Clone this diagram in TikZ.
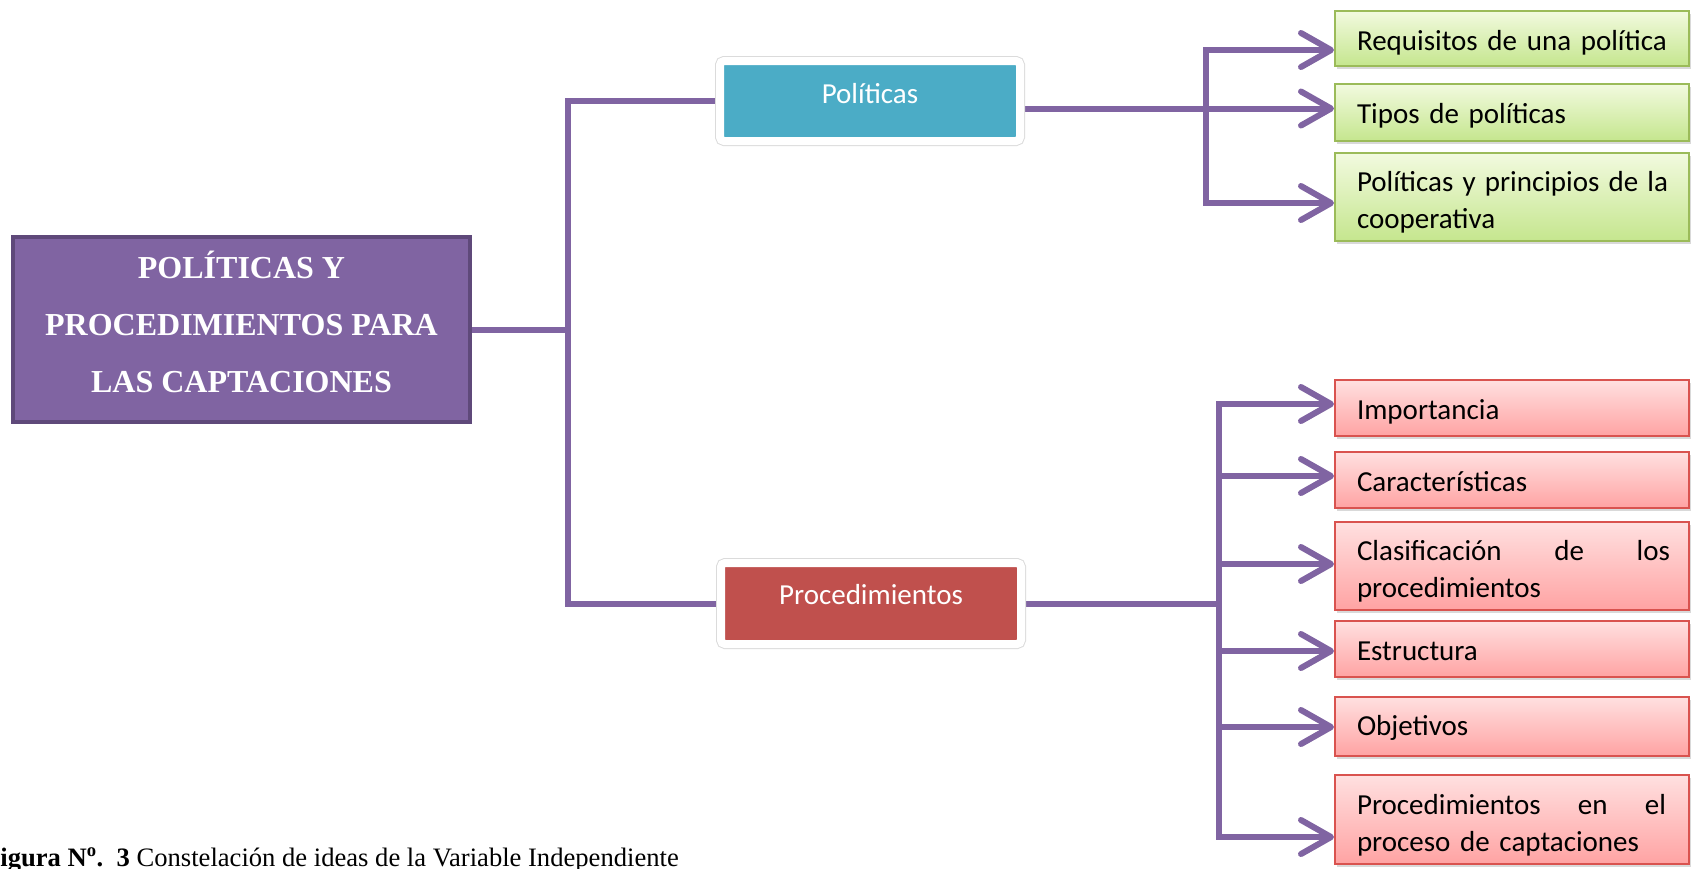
\documentclass[tikz,border=0pt]{standalone}
\usepackage{fontspec}
\setmainfont{Liberation Serif}
\newfontfamily\carl{Carlito}
\usetikzlibrary{arrows.meta,shadows,calc}
\definecolor{purp}{HTML}{8064A2}
\definecolor{purpdark}{HTML}{5F497A}
\definecolor{polteal}{HTML}{4BACC6}
\definecolor{procred}{HTML}{C0504D}
\definecolor{grnborder}{HTML}{9BBB59}
\definecolor{grntop}{HTML}{F2FADF}
\definecolor{grnbot}{HTML}{C5E68E}
\definecolor{redborder}{HTML}{D9534F}
\definecolor{redtop}{HTML}{FFE0E0}
\definecolor{redbot}{HTML}{FFA3A3}
\pgfdeclarelayer{bg}
\pgfsetlayers{bg,main}
\begin{document}
\begin{tikzpicture}[x=1pt,y=-1pt,
  barb/.tip={Straight Barb[length=30pt,width=34pt,round]},
  conn/.style={draw=purp,line width=6pt,
    preaction={draw=black,opacity=0.18,transform canvas={xshift=1pt,yshift=-2.5pt}}},
  mainbox/.style={draw=purpdark,line width=4pt,fill=purp,minimum width=457pt,
    minimum height=185pt,inner sep=0pt,align=center,text=white,
    font=\bfseries\fontsize{32}{57}\selectfont},
  frame/.style={draw=white,line width=8pt,rounded corners=4pt,minimum width=300pt,
    inner sep=0pt,text=white,font=\carl\fontsize{29}{35}\selectfont,
    drop shadow={shadow xshift=0.5pt,shadow yshift=-4pt,opacity=0.3},
    preaction={draw=black!14,line width=10pt}},
  leaf/.style={line width=2pt,minimum width=354pt,inner xsep=22pt,inner ysep=0pt,
    text width=310pt,align=left,font=\carl\fontsize{29}{37}\selectfont,
    drop shadow={shadow xshift=2pt,shadow yshift=-3pt,opacity=0.3}},
  gleaf/.style={leaf,draw=grnborder,top color=grntop,bottom color=grnbot},
  rleaf/.style={leaf,draw=redborder,top color=redtop,bottom color=redbot}
]
\useasboundingbox (0,0) rectangle (1692,868);

% main box
\node[mainbox] (main) at (241.5,329.5) {POLÍTICAS Y\\PROCEDIMIENTOS PARA\\LAS CAPTACIONES\rule[-15pt]{0pt}{15pt}};

% second level
\node[frame,fill=polteal,minimum height=80pt,text height=17pt,text depth=13pt] (pol) at (870,101) {Políticas};
\node[frame,fill=procred,minimum height=81pt,text height=15.5pt,text depth=14.5pt] (proc) at (871,603.5) {Procedimientos};

% green leaves
\node[gleaf,minimum height=55pt,text height=27pt,text depth=3pt] (req) at (1512,38.5) {Requisitos de una política};
\node[gleaf,minimum height=57pt,text height=26pt,text depth=4pt] (tip) at (1512,112.5) {Tipos de políticas};
\node[gleaf,minimum height=88pt] (ppc) at (1512,197) {\rule{0pt}{31pt}\makebox[311pt][l]{Políticas\hfill y\hfill principios\hfill de\hfill la}\\cooperativa};

% red leaves
\node[rleaf,minimum height=56pt,text height=26pt,text depth=4pt] (imp) at (1512,408) {Importancia};
\node[rleaf,minimum height=56pt,text height=26pt,text depth=4pt] (car) at (1512,480) {Características};
\node[rleaf,minimum height=88pt] (cla) at (1512,566) {\rule{0pt}{31pt}\makebox[313pt][l]{Clasificación\hfill de\hfill los}\\procedimientos};
\node[rleaf,minimum height=56pt,text height=26pt,text depth=4pt] (est) at (1512,649) {Estructura};
\node[rleaf,minimum height=59pt,text height=23.5pt,text depth=6.5pt] (obj) at (1512,726.5) {Objetivos};
\node[rleaf,minimum height=89pt] (pen) at (1512,819.5) {\rule{0pt}{31pt}\makebox[309pt][l]{Procedimientos\hfill en\hfill el}\\proceso de captaciones};

% caption
\node[anchor=base west,inner sep=0pt,font=\fontsize{26.6}{30}\selectfont] (cap) at (-16,866)
  {\textbf{Figura N\textsuperscript{o}. \,3} Constelación de ideas de la Variable Independiente};

% trunk coordinates and arrow entry points
\coordinate (mtr) at (568,0);
\coordinate (gtr) at (1206,0);
\coordinate (rtr) at (1219,0);
\coordinate (reqin) at ($(req.west)+(0,11.5)$);
\coordinate (tipin) at ($(tip.west)+(0,-4)$);
\coordinate (ppcin) at ($(ppc.west)+(0,6)$);
\coordinate (impin) at ($(imp.west)+(0,-4)$);
\coordinate (carin) at ($(car.west)+(0,-4)$);
\coordinate (clain) at ($(cla.west)+(0,-2)$);
\coordinate (estin) at ($(est.west)+(0,2)$);
\coordinate (objin) at ($(obj.west)+(0,0.5)$);
\coordinate (penin) at ($(pen.west)+(0,17.5)$);

\begin{pgfonlayer}{bg}
\draw[conn] (main.east) -- (main.east -| mtr);
\draw[conn] (pol.west) -- (pol.west -| mtr) -- (proc.west -| mtr) -- (proc.west);
% green branch
\draw[conn,barb-barb] (reqin) -- (reqin -| gtr) -- (ppcin -| gtr) -- (ppcin);
\draw[conn,-barb] (tipin -| pol.east) -- (tipin);
% red branch
\draw[conn] (proc.east) -- (proc.east -| rtr);
\draw[conn,barb-barb] (impin) -- (impin -| rtr) -- (penin -| rtr) -- (penin);
\draw[conn,-barb] (carin -| rtr) -- (carin);
\draw[conn,-barb] (clain -| rtr) -- (clain);
\draw[conn,-barb] (estin -| rtr) -- (estin);
\draw[conn,-barb] (objin -| rtr) -- (objin);
\end{pgfonlayer}
\end{tikzpicture}
\end{document}
